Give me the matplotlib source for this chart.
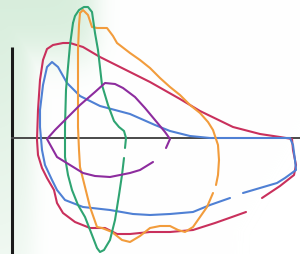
import numpy as np
import matplotlib
matplotlib.use("Agg")
import matplotlib.pyplot as plt

nan = np.nan

# traced loops, in picture pixel coordinates (x right, y down)
red_x = [40, 43, 47, 53, 63, 70, 83, 100, 130, 150, 180, 200, 233, 260, 280, 292, 293, 296, 294, 280, 262, nan,
         246, 232, 215, 193, 170, 150, 130, 117, 105, 90, 75, 63, 57, 54, 47, 42, 38, 37, 38, 40]
red_y = [80, 60, 49, 45, 43, 43, 47, 57, 72, 82, 99, 111, 127, 134, 137, 139, 150, 165, 175, 186, 198, nan,
         212, 217, 223, 230, 232, 232, 234, 234, 228, 228, 222, 213, 203, 190, 178, 168, 155, 140, 110, 80]

blue_x = [40, 40, 43, 47, 52, 58, 67, 80, 100, 130, 155, 170, 190, 210, 250, 290, 293, 295, 296,
          285, 277, 260, 243, nan, 230, 210, 193, 170, 150, 133, 110, 83, 65, 57, 52, 45, 42, 40]
blue_y = [127, 110, 85, 67, 62, 67, 83, 96, 106, 114, 125, 131, 136, 138, 138, 138, 145, 160, 170,
          178, 183, 188, 193, nan, 198, 205, 212, 214, 215, 214, 210, 207, 200, 190, 180, 165, 150, 127]

purple_x = [153, 140, 130, 110, 95, 83, 70, 57, 47, 55, 65, 80, 95, 105, 115, 123, 135, 145, 155, 165, 170, 166]
purple_y = [162, 170, 173, 177, 176, 173, 165, 157, 139, 130, 120, 105, 92, 83, 84, 88, 97, 108, 120, 132, 139, 148]

green_x = [73, 70, 68, 66, 65, 65, 68, 72, 78, 85, 92, 97, 100, 104, 110, 115, 119, 122, 124, nan,
           125, 126, 124, 119, 114, 108, 102, 98, 95, 92, 88, 84, 79, 75, 73]
green_y = [23, 45, 67, 90, 127, 157, 175, 190, 205, 217, 235, 248, 252, 250, 240, 220, 195, 175, 158, nan,
           148, 138, 131, 127, 121, 105, 85, 50, 33, 12, 7, 7, 10, 16, 23]

orange_x = [80, 83, 88, 92, 97, 107, 113, 117, 130, 140, 150, 160, 170, 180, 190, 200, 208, 213, 218,
            219, 218, 216, nan, 213, 207, 200, 193, 185, 178, 170, 160, 150, 140, 130, 122, 112, 102, 97,
            90, 85, 80, 79, 78, 78, 78, 79, 80]
orange_y = [13, 10, 15, 27, 28, 28, 36, 43, 53, 60, 68, 78, 87, 95, 105, 113, 122, 130, 145,
            160, 175, 185, nan, 193, 207, 217, 227, 232, 230, 226, 226, 228, 236, 242, 240, 232, 228, 227,
            207, 187, 167, 150, 127, 90, 50, 25, 13]

loops = [
    (red_x, red_y, "#c9305c"),
    (blue_x, blue_y, "#4f80d4"),
    (orange_x, orange_y, "#f29c3c"),
    (green_x, green_y, "#2fa472"),
    (purple_x, purple_y, "#8d2c9e"),
]

fig = plt.figure(figsize=(3.0, 2.54), dpi=100)
ax = fig.add_axes([0, 0, 1, 1])
ax.set_xlim(0, 300)
ax.set_ylim(254, 0)
ax.axis("off")


def sig(v):
    return 1 / (1 + np.exp(-v))


# pale green wash: top-left block and a strip down the left edge
xx, yy = np.meshgrid(np.linspace(0, 300, 300), np.linspace(0, 254, 254))
w_top = sig((95 - xx) / 7) * sig((55 - yy) / 12)
w_left = sig((32 - xx) / 6) * (1 - yy / 420)
w = np.maximum(w_top, w_left) * 0.85
tint = np.array([0.82, 0.92, 0.84])
bg = (1 - w[..., None]) + tint * w[..., None]
ax.imshow(bg, extent=[0, 300, 254, 0], aspect="auto", zorder=0)

# axes strokes
ax.plot([12, 12], [47, 254], color="#1a1a1a", lw=2.2, solid_capstyle="butt", zorder=1)
ax.plot([12, 300], [138, 138], color="#4a4a4a", lw=1.4, zorder=1)

for xs, ys, c in loops:
    ax.plot(xs, ys, color=c, lw=1.5, solid_joinstyle="round", solid_capstyle="round", zorder=2)

fig.savefig("out.png", dpi=100)
